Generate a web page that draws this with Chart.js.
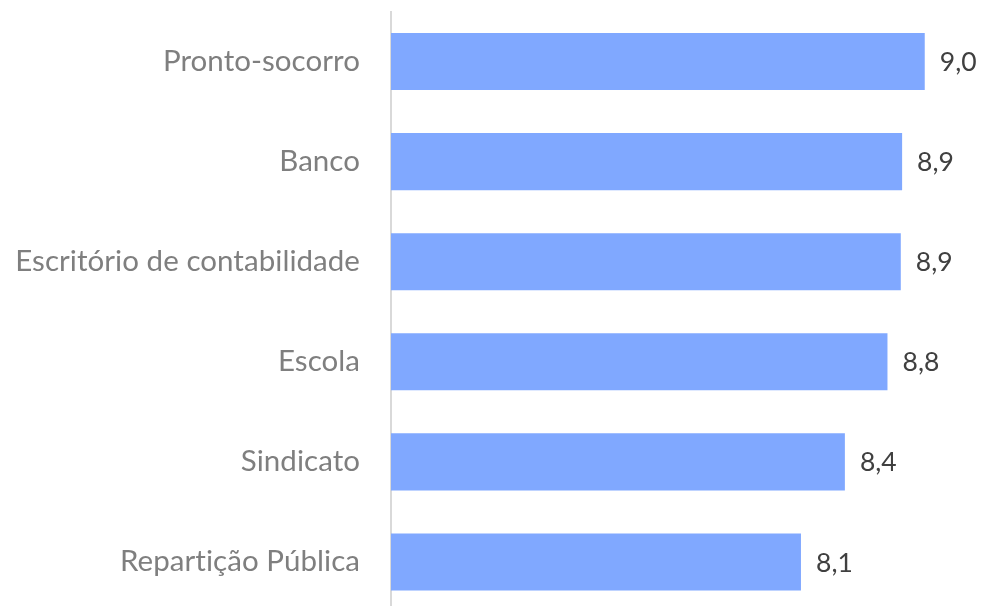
<!DOCTYPE html>
<html>
<head>
<meta charset="utf-8">
<script src="https://cdn.jsdelivr.net/npm/chart.js@4"></script>
<style>
  html, body { margin: 0; padding: 0; background: #fff; overflow: hidden; }
</style>
</head>
<body>
<canvas id="myChart" width="983" height="612"></canvas>
<script>
const ctx = document.getElementById('myChart');

const categories = ['Pronto-socorro', 'Banco', 'Escritório de contabilidade', 'Escola', 'Sindicato', 'Repartição Pública'];
const scores = [9.04, 8.87, 8.86, 8.76, 8.44, 8.11];

const FONT = 'Lato, "Open Sans", sans-serif';

// tiny letter spacing so Lato doesn't use its "ti" ligature
const noLigatures = {
    id: 'noLigatures',
    beforeDraw(chart) {
        chart.ctx.letterSpacing = '0.05px';
    }
};

// draws the "9,0" style labels to the right of each bar
const valueLabels = {
    id: 'valueLabels',
    afterDatasetsDraw(chart) {
        const c = chart.ctx;
        const meta = chart.getDatasetMeta(0);
        c.save();
        c.font = '26.5px ' + FONT;
        c.fillStyle = '#404040';
        c.textAlign = 'left';
        c.textBaseline = 'middle';
        meta.data.forEach((bar, i) => {
            const txt = scores[i].toFixed(1).replace('.', ',');
            c.fillText(txt, bar.x + 15, bar.y + 1);
        });
        c.restore();
    }
};

new Chart(ctx, {
    type: 'bar',
    data: {
        labels: categories,
        datasets: [{
            data: scores,
            backgroundColor: '#80a8ff',
            borderWidth: 0,
            barPercentage: 0.57,
            categoryPercentage: 1
        }]
    },
    options: {
        indexAxis: 'y',
        responsive: false,
        animation: false,
        layout: { padding: { top: 11.5, right: 13, bottom: 0, left: 0 } },
        plugins: {
            legend: { display: false },
            tooltip: { enabled: false }
        },
        scales: {
            x: {
                display: false,
                min: 5.03,
                max: 9.38
            },
            y: {
                grid: { display: false, drawTicks: false },
                border: { display: true, color: '#d9d9d9', width: 2 },
                ticks: {
                    color: '#7f7f7f',
                    font: { family: FONT, size: 29.5 },
                    padding: 31
                },
                afterFit(scale) {
                    scale.width = 391;
                    scale.paddingTop = 0;
                    scale.paddingBottom = 0;
                }
            }
        }
    },
    plugins: [noLigatures, valueLabels]
});
</script>
</body>
</html>
